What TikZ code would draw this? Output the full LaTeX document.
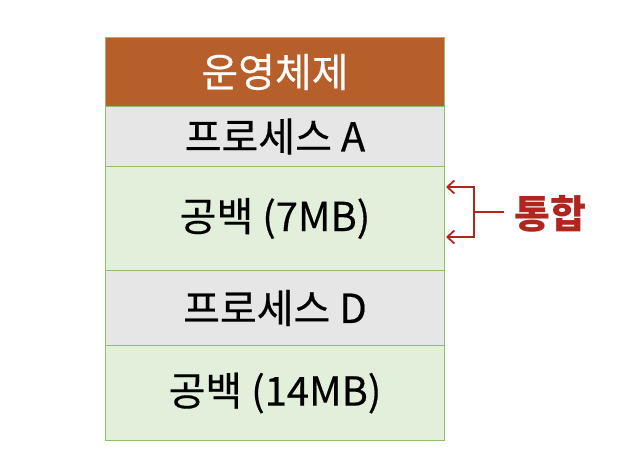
\documentclass[tikz,border=0pt]{standalone}
\usepackage{fontspec}
\setmainfont{Noto Sans CJK KR}
\newfontfamily\cellfont{Noto Sans CJK KR}[FakeBold=0.4]
\usetikzlibrary{arrows.meta}
\definecolor{osbrown}{HTML}{B75F2A}
\definecolor{procgray}{HTML}{E6E6E6}
\definecolor{freegreen}{HTML}{E2EFDA}
\definecolor{edgegreen}{HTML}{8DC06A}
\definecolor{mergered}{HTML}{B0261E}
\begin{document}
\begin{tikzpicture}[x=1pt,y=-1pt,
  cell/.style={draw=edgegreen, line width=1pt, minimum width=339pt, inner sep=0pt, anchor=north west, font=\cellfont\fontsize{40}{42}\selectfont},
  bracket/.style={draw=mergered, line width=1.8pt, -{Straight Barb[length=7pt,width=13pt]}}
]
\useasboundingbox (0,0) rectangle (632,474);
\node[cell, fill=osbrown, text=white, minimum height=69pt] (os) at (105,37) {운영체제};
\node[cell, fill=procgray, minimum height=60pt] (pa) at (105,106) {프로세스 A};
\node[cell, fill=freegreen, minimum height=104pt] (f1) at (105,166) {공백 (7MB)};
\node[cell, fill=procgray, minimum height=75pt] (pd) at (105,270) {프로세스 D};
\node[cell, fill=freegreen, minimum height=95pt] (f2) at (105,345) {공백 (14MB)};
\node[text=mergered, font=\fontsize{39}{41}\selectfont\bfseries, anchor=west, inner sep=0pt] (th) at (514,214) {통합};
\coordinate (j) at (474,212);
\coordinate (jt) at (474,187);
\coordinate (jb) at (474,237);
\coordinate (at) at (446,187);
\coordinate (ab) at (446,237);
\draw[draw=mergered, line width=1.8pt] (th.west) ++(-10,-2) -- (j);
\draw[bracket] (jb) -- (jt) -- (at);
\draw[bracket] (jt) -- (jb) -- (ab);
\end{tikzpicture}
\end{document}
